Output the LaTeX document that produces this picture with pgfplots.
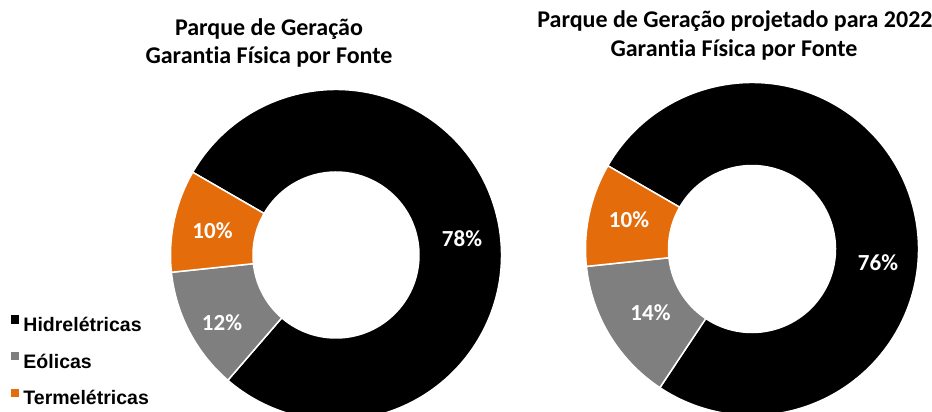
\documentclass[border=0pt]{standalone}
\usepackage{pgfplots}
\pgfplotsset{compat=1.18}
\usepackage{pgfplotstable}
\usepackage{fontspec}
\setmainfont{Carlito}[Ligatures=NoCommon]
\newfontfamily\legfont{Liberation Sans}
\definecolor{cinza}{RGB}{127,127,127}
\definecolor{laranja}{RGB}{228,108,10}

\pgfplotstableread{
fonte valor
Hidreletricas 78
Eolicas 12
Termeletricas 10
}\dadosA
\pgfplotstableread{
fonte valor
Hidreletricas 76
Eolicas 14
Termeletricas 10
}\dadosB

\newcommand{\sector}[5]{% color, start, end, R, r
  \fill[#1, draw=white, line width=0.75pt]
    (axis cs:{#4*cos(#2)},{#4*sin(#2)}) arc[start angle=#2, end angle=#3, radius=#4*0.5pt]
    -- (axis cs:{#5*cos(#3)},{#5*sin(#3)}) arc[start angle=#3, end angle=#2, radius=#5*0.5pt]
    -- cycle;
}
\newcommand{\ttlfont}{\bfseries\fontsize{12}{14}\selectfont}
\newcommand{\lblfont}{\bfseries\fontsize{11.5}{13}\selectfont}

\begin{document}%
\begin{tikzpicture}[x=0.5pt,y=0.5pt]
\pgfplotstablegetelem{0}{valor}\of\dadosA \edef\hA{\pgfplotsretval}
\pgfplotstablegetelem{1}{valor}\of\dadosA \edef\eA{\pgfplotsretval}
\pgfplotstablegetelem{2}{valor}\of\dadosA \edef\tA{\pgfplotsretval}
\pgfplotstablegetelem{0}{valor}\of\dadosB \edef\hB{\pgfplotsretval}
\pgfplotstablegetelem{1}{valor}\of\dadosB \edef\eB{\pgfplotsretval}
\pgfplotstablegetelem{2}{valor}\of\dadosB \edef\tB{\pgfplotsretval}
\pgfmathsetmacro\aA{150}
\pgfmathsetmacro\bA{\aA-3.6*\hA}
\pgfmathsetmacro\cA{\bA-3.6*\eA}
\pgfmathsetmacro\dA{\cA-3.6*\tA}
\pgfmathsetmacro\aB{150}
\pgfmathsetmacro\bB{\aB-3.6*\hB}
\pgfmathsetmacro\cB{\bB-3.6*\eB}
\pgfmathsetmacro\dB{\cB-3.6*\tB}
\begin{scope}
\clip (0,0) rectangle (932,412);
% left donut
\begin{axis}[at={(336,157)}, anchor=center, x=0.5pt, y=0.5pt,
  xmin=-170, xmax=170, ymin=-170, ymax=170, hide axis, clip=false,
  legend style={draw=none, fill=none, inner sep=0pt, outer sep=0pt,
    at={(axis description cs:-0.4559,0.3235)}, anchor=north west,
    font=\legfont\bfseries\fontsize{9.75}{11}\selectfont,
    row sep=8.25pt,
    nodes={inner sep=0pt, text height=7pt, text depth=2pt},
    /tikz/every odd column/.style={column sep=2pt}},
  legend cell align=left,
  legend image code/.code={\fill[#1] (0pt,1.4pt) rectangle (4.25pt,5.65pt);},
]
\sector{black}{\aA}{\bA}{165.5}{83}
\sector{cinza}{\bA}{\cA}{165.5}{83}
\sector{laranja}{\cA}{\dA}{165.5}{83}
\node[white, font=\lblfont] at (axis cs:126,16) {78\%};
\node[white, font=\lblfont] at (axis cs:-123.5,24.3) {10\%};
\node[white, font=\lblfont] at (axis cs:-114,-67.5) {12\%};
\addlegendimage{fill=black, draw=none}
\addlegendentry{Hidrelétricas}
\addlegendimage{fill=cinza, draw=none}
\addlegendentry{Eólicas}
\addlegendimage{fill=laranja, draw=none}
\addlegendentry{Termelétricas}
\end{axis}
% right donut
\begin{axis}[at={(752,163)}, anchor=center, x=0.5pt, y=0.5pt,
  xmin=-170, xmax=170, ymin=-170, ymax=170, hide axis, clip=false]
\sector{black}{\aB}{\bB}{166.5}{83.5}
\sector{cinza}{\bB}{\cB}{166.5}{83.5}
\sector{laranja}{\cB}{\dB}{166.5}{83.5}
\node[white, font=\lblfont] at (axis cs:126,-13.5) {76\%};
\node[white, font=\lblfont] at (axis cs:-123,29.5) {10\%};
\node[white, font=\lblfont] at (axis cs:-101.5,-63.5) {14\%};
\end{axis}
\node[anchor=base, font=\ttlfont] at (269,376) {Parque de Geração};
\node[anchor=base, font=\ttlfont] at (269,348) {Garantia Física por Fonte};
\node[anchor=base, font=\ttlfont] at (735,384.5) {Parque de Geração projetado para 2022};
\node[anchor=base, font=\ttlfont] at (734,355.3) {Garantia Física por Fonte};
\end{scope}
\pgfresetboundingbox
\path[use as bounding box] (0,0) rectangle (932,412);
\end{tikzpicture}%
\end{document}
